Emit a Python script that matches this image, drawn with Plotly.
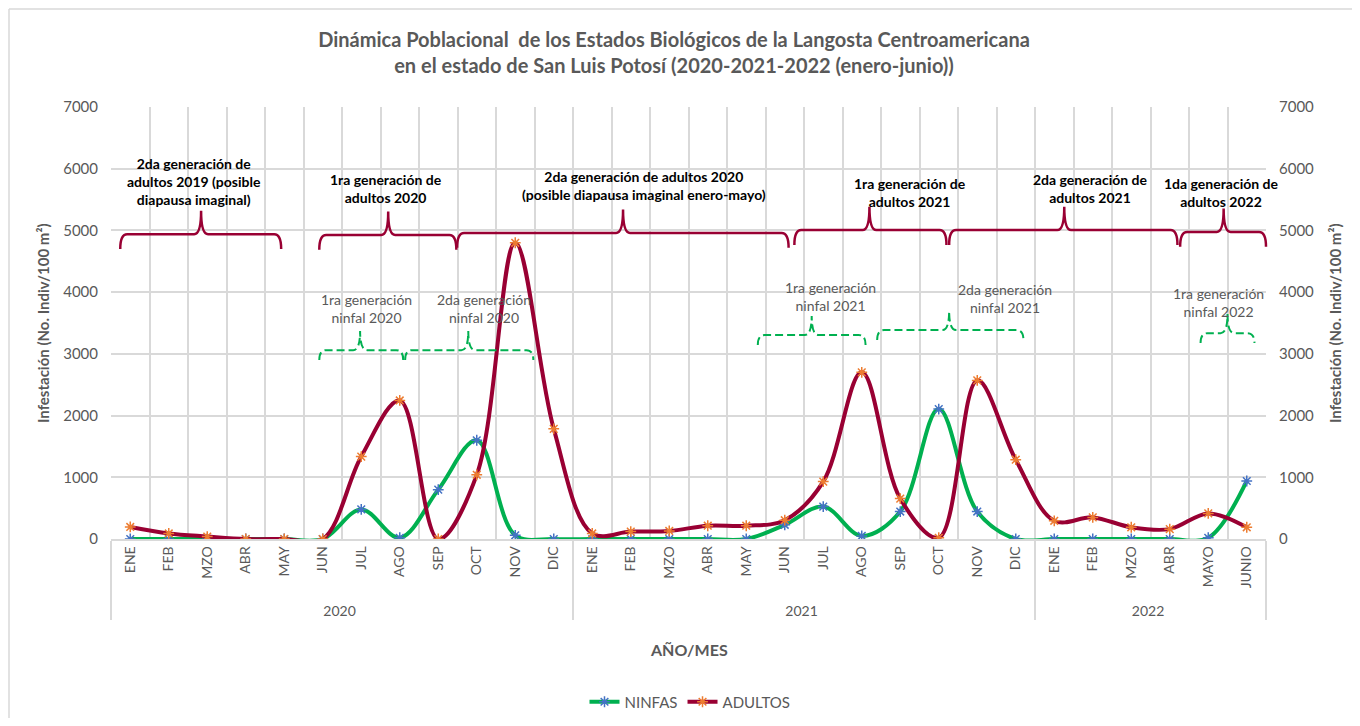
import plotly.graph_objects as go

# ---------------- data ----------------
years = ["2020"] * 12 + ["2021"] * 12 + ["2022"] * 6
months = ["ENE", "FEB", "MZO", "ABR", "MAY", "JUN", "JUL", "AGO", "SEP", "OCT", "NOV", "DIC",
          "ENE", "FEB", "MZO", "ABR", "MAY", "JUN", "JUL", "AGO", "SEP", "OCT", "NOV", "DIC",
          "ENE", "FEB", "MZO", "ABR", "MAYO", "JUNIO"]
ninfas = [0, 0, 0, 0, 0, 0, 480, 20, 800, 1600, 60, 0,
          0, 0, 0, 0, 0, 230, 525, 50, 445, 2105, 445, 0,
          0, 0, 0, 0, 20, 940]
adultos = [195, 90, 40, 0, 0, 0, 1335, 2245, 0, 1040, 4800, 1785,
           90, 120, 130, 215, 215, 305, 930, 2700, 655, 20, 2570, 1285,
           295, 350, 190, 160, 415, 190]

# brace annotations (category index positions, y level in data units)
red_labels = ["2da generación de<br>adultos 2019 (posible<br>diapausa imaginal)",
              "1ra generación de<br>adultos 2020",
              "2da generación de adultos 2020<br>(posible diapausa imaginal enero-mayo)",
              "1ra generación de<br>adultos 2021",
              "2da generación de<br>adultos 2021",
              "1da generación de<br>adultos 2022"]
red_x0 = [-0.26, 4.91, 8.49, 17.25, 21.27, 27.27]
red_x1 = [3.92, 8.47, 17.1, 21.2, 27.2, 29.5]
red_xm = [1.84, 6.7, 12.8, 19.2, 24.26, 28.4]
red_y = [4940, 4925, 4960, 5005, 5005, 4975]
red_lab_x = [1.66, 6.65, 13.35, 20.26, 24.94, 28.34]
red_lab_y = [5800, 5672, 5720, 5607, 5672, 5607]

green_labels = ["1ra generación<br>ninfal 2020", "2da generación<br>ninfal 2020",
                "1ra generación<br>ninfal 2021", "2da generación<br>ninfal 2021",
                "1ra generación<br>ninfal 2022"]
green_x0 = [4.91, 7.14, 16.3, 19.4, 27.8]
green_x1 = [7.09, 10.47, 19.1, 23.2, 29.2]
green_xm = [5.97, 8.78, 17.7, 21.27, 28.5]
green_y = [3060, 3060, 3305, 3385, 3335]
green_lab_x = [6.13, 9.19, 18.18, 22.73, 28.26]
green_lab_y = [3727, 3743, 3922, 3905, 3840]

N = len(months)
FONT = "Lato"
GRAY = "#595959"
RED = "#990033"
GREEN = "#00B050"
GRID = "#D9D9D9"

# figure is drawn inside the page's 8px body margin
W, H = 1344, 710
ML, MT, PW, PH = 103, 99, 1155, 432


def px(i):
    return (i + 0.5) / N


def brace(x0, x1, xm, y, drop, tip, r=0.006):
    a, b, m = px(x0), px(x1), px(xm)
    return (f"M {a},{y - drop} Q {a},{y} {a + r},{y} L {m - r},{y} "
            f"Q {m},{y} {m},{y + tip} Q {m},{y} {m + r},{y} "
            f"L {b - r},{y} Q {b},{y} {b},{y - drop}")


fig = go.Figure()
# invisible trace driving the secondary (numeric) x axis for boundary gridlines and right y axis
fig.add_trace(go.Scatter(x=list(range(N)), y=adultos, xaxis="x2", yaxis="y2", showlegend=False,
                         mode="lines", line=dict(width=0), opacity=0, hoverinfo="skip"))
fig.add_trace(go.Scatter(
    x=[years, months], y=ninfas, name="NINFAS", mode="lines+markers",
    line=dict(color=GREEN, width=4, shape="spline", smoothing=1.0),
    marker=dict(symbol="asterisk-open", size=9, color="#4472C4",
                line=dict(color="#4472C4", width=1.5))))
fig.add_trace(go.Scatter(
    x=[years, months], y=adultos, name="ADULTOS", mode="lines+markers",
    line=dict(color=RED, width=4, shape="spline", smoothing=1.0),
    marker=dict(symbol="asterisk-open", size=9, color="#ED7D31",
                line=dict(color="#ED7D31", width=1.5))))

shapes = []
for x0, x1, xm, y in zip(red_x0, red_x1, red_xm, red_y):
    shapes.append(dict(type="path", xref="paper", yref="y",
                       path=brace(x0, x1, xm, y, 240, 380),
                       line=dict(color=RED, width=2.5)))
for x0, x1, xm, y in zip(green_x0, green_x1, green_xm, green_y):
    shapes.append(dict(type="path", xref="paper", yref="y",
                       path=brace(x0, x1, xm, y, 160, 310),
                       line=dict(color=GREEN, width=2, dash="8px,4px")))
# chart area border (top & left)
shapes.append(dict(type="line", xref="paper", yref="paper",
                   x0=-(ML - 1) / PW, x1=1.3, y0=(MT - 1) / PH + 1, y1=(MT - 1) / PH + 1,
                   line=dict(color=GRID, width=1.5)))
shapes.append(dict(type="line", xref="paper", yref="paper",
                   x0=-(ML - 1) / PW, x1=-(ML - 1) / PW, y0=-0.5, y1=(MT - 1) / PH + 1,
                   line=dict(color=GRID, width=1.5)))

annotations = []
for t, x, y in zip(red_labels, red_lab_x, red_lab_y):
    annotations.append(dict(text=t, x=px(x), y=y, xref="paper", yref="y", showarrow=False,
                            font=dict(family=FONT, size=14, color="#000000", weight="bold"),
                            xanchor="center", yanchor="middle"))
for t, x, y in zip(green_labels, green_lab_x, green_lab_y):
    annotations.append(dict(text=t, x=px(x), y=y, xref="paper", yref="y", showarrow=False,
                            font=dict(family=FONT, size=14, color=GRAY),
                            xanchor="center", yanchor="middle"))
annotations.append(dict(text="<b>AÑO/MES</b>", x=0.5, y=(539 - 649) / 432, xref="paper",
                        yref="paper", showarrow=False, yanchor="middle",
                        font=dict(family=FONT, size=16, color=GRAY)))
ytitle = "<b>Infestación (No. Indiv/100 m²)</b>"
annotations.append(dict(text=ytitle, x=-68 / 1155, y=0.5, xref="paper", yref="paper",
                        textangle=-90, showarrow=False, xanchor="center", yanchor="middle",
                        font=dict(family=FONT, size=15, color=GRAY)))
annotations.append(dict(text=ytitle, x=1 + 69 / 1155, y=0.5, xref="paper", yref="paper",
                        textangle=-90, showarrow=False, xanchor="center", yanchor="middle",
                        font=dict(family=FONT, size=15, color=GRAY)))

fig.update_layout(
    width=W, height=H,
    margin=dict(l=ML, r=W - ML - PW, t=MT, b=H - MT - PH),
    paper_bgcolor="white", plot_bgcolor="white",
    font=dict(family=FONT, color=GRAY),
    title=dict(text="<b>Dinámica Poblacional  de los Estados Biológicos de la Langosta Centroamericana<br>"
                    "en el estado de San Luis Potosí (2020-2021-2022 (enero-junio))</b>",
               x=(674 - 8) / W, xanchor="center", y=1 - 38.5 / H, yanchor="middle",
               font=dict(family=FONT, size=20, color=GRAY)),
    xaxis=dict(type="multicategory", tickangle=-90, showgrid=False, automargin=False,
               range=[-0.5, N - 0.5], autorange=False,
               tickfont=dict(family=FONT, size=14, color=GRAY),
               showline=True, linecolor=GRID, linewidth=1.5, ticks="",
               showdividers=True, dividercolor=GRID, dividerwidth=1.5,
               zeroline=False),
    xaxis2=dict(overlaying="x", range=[-0.5, N - 0.5], autorange=False, tick0=-0.5, dtick=1,
                showgrid=True, gridcolor=GRID, gridwidth=1.5, showticklabels=False, ticks="",
                zeroline=False, side="top", automargin=False, layer="below traces"),
    yaxis=dict(range=[0, 7000], dtick=1000, showgrid=True, gridcolor=GRID, gridwidth=1.5,
               zeroline=False, tickfont=dict(family=FONT, size=15, color=GRAY), ticks="",
               automargin=False, ticklabelstandoff=12),
    yaxis2=dict(range=[0, 7000], dtick=1000, overlaying="y", side="right", showgrid=False,
                zeroline=False, tickfont=dict(family=FONT, size=15, color=GRAY), ticks="",
                automargin=False, ticklabelstandoff=12),
    legend=dict(orientation="h", xref="paper", x=(690 - 8 - ML) / PW, xanchor="center",
                yref="container", y=1 - (702 - 8) / H, yanchor="middle",
                font=dict(family=FONT, size=15, color=GRAY)),
    shapes=shapes, annotations=annotations,
)

fig.write_html("out.html")
